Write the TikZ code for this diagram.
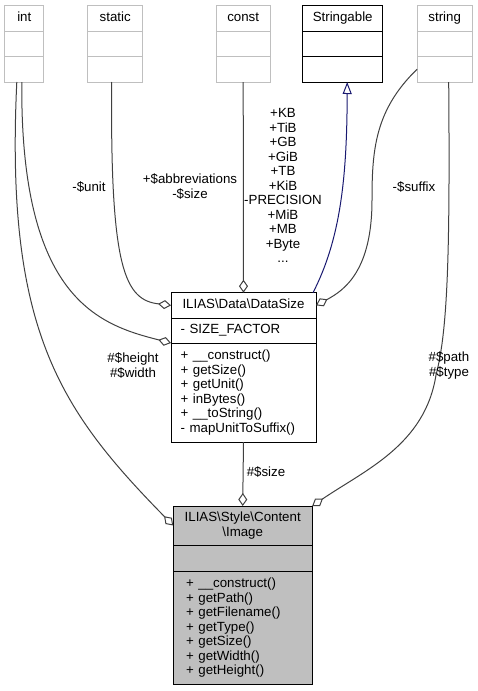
\documentclass[tikz,border=0pt]{standalone}
\usepackage{fontspec}
\setmainfont{Liberation Sans}
\usetikzlibrary{arrows.meta,positioning}
\definecolor{pale}{RGB}{191,191,191}
\definecolor{wire}{RGB}{64,64,64}
\definecolor{midnight}{RGB}{25,25,112}
\newcommand{\umlfont}{\fontsize{13.3}{14.5}\selectfont}
\tikzset{
  every node/.style={font=\umlfont,text=black,outer sep=0pt},
  head/.style={draw=#1,fill=white,line width=1pt,anchor=north,align=center,
    inner xsep=3pt,inner ysep=0pt,text height=9.5pt,text depth=3pt},
  head/.default=black,
  part/.style={draw=#1,fill=white,line width=1pt,inner sep=0pt},
  part/.default=black,
  title/.style={draw=black,fill=pale,line width=1pt,anchor=north,align=center,inner sep=0pt},
  ops/.style={draw=black,fill=#1,line width=1pt,align=left,inner ysep=0pt},
  ops/.default=white,
  agg/.style={draw=wire,line width=1pt,-{Diamond[open,length=13pt,width=9pt]}},
  isa/.style={draw=midnight,line width=1pt,-{Triangle[open,length=12pt,width=9pt]}},
  tag/.style={align=center,inner sep=0pt},
}
\begin{document}
\begin{tikzpicture}[x=1pt,y=-1pt]
  \useasboundingbox (0,0) rectangle (477,691);
  % member types along the top
  \foreach \nm/\x/\w/\lbl in {int/24.3/38.7/int, stat/115.2/55/static,
      const/243.2/54.3/const, str/444.7/55.3/string}{
    \node[head=pale,minimum width=\w,minimum height=26] (\nm) at (\x,5) {\lbl};
    \node[part=pale,minimum width=\w,minimum height=25.5,below=0pt of \nm] (\nm B) {};
    \node[part=pale,minimum width=\w,minimum height=25.5,below=0pt of \nm B] (\nm C) {};
  }
  \node[head,minimum width=80,minimum height=26] (strg) at (342.7,5) {Stringable};
  \node[part,minimum width=80,minimum height=25.5,below=0pt of strg] (strgB) {};
  \node[part,minimum width=80,minimum height=25.5,below=0pt of strgB] (strgC) {};

  % DataSize
  \node[head,minimum width=145,minimum height=25.3] (ds) at (243.5,292.7) {ILIAS\textbackslash Data\textbackslash DataSize};
  \node[ops,inner xsep=9.7pt,text width=125.6pt,minimum height=25,below=0pt of ds] (dsB) {- SIZE\_FACTOR};
  \node[ops,inner xsep=9.7pt,text width=125.6pt,minimum height=99,below=0pt of dsB] (dsC)
    {+ \_\_construct()\\+ getSize()\\+ getUnit()\\+ inBytes()\\+ \_\_toString()\\- mapUnitToSuffix()};

  % Image
  \node[title,minimum width=139,minimum height=39] (img) at (242.7,506)
    {ILIAS\textbackslash Style\textbackslash Content\\\textbackslash Image};
  \node[ops=pale,inner xsep=13pt,text width=113pt,minimum height=26.7,below=0pt of img] (imgB) {};
  \node[ops=pale,inner xsep=13pt,text width=113pt,minimum height=112.3,below=0pt of imgB] (imgC)
    {+ \_\_construct()\\+ getPath()\\+ getFilename()\\+ getType()\\+ getSize()\\+ getWidth()\\+ getHeight()};

  % connectors
  \draw[agg] ([xshift=-7.5]intC.south) .. controls (5,330) and (60,410) .. (img.west);
  \draw[agg] ([xshift=-2.5]intC.south) .. controls (20,300) and (100,325) .. (dsB.south west);
  \draw[agg] ([xshift=-3.5]statC.south) .. controls (110,270) and (125,300) .. (ds.west);
  \draw[agg] (constC.south) -- (ds.north);
  \draw[isa] ([xshift=-3]ds.north east) .. controls (340,240) and (347,180) .. ([xshift=4.5]strgC.south);
  \draw[agg] (strC.west) .. controls (375,110) and (372,150) .. (372,200)
    .. controls (372,270) and (345,290) .. (ds.east);
  \draw[agg] ([xshift=4]strC.south) .. controls (450,250) and (448,330) .. (436,375)
    .. controls (425,445) and (365,470) .. (img.north east);
  \draw[agg] (dsC.south) -- (img.north);

  % labels
  \node[tag] (unitlbl) at (89,187) {-\$unit};
  \node[tag] (abbrlbl) at (190,186.5) {+\$abbreviations\\-\$size};
  \node[tag] (constlbl) at (283,185.5)
    {+KB\\+TiB\\+GB\\+GiB\\+TB\\+KiB\\-PRECISION\\+MiB\\+MB\\+Byte\\...};
  \node[tag] (suffixlbl) at (414,187) {-\$suffix};
  \node[tag] (hwlbl) at (133,365.5) {\#\$height\\\#\$width};
  \node[tag] (ptlbl) at (449,365.5) {\#\$path\\\#\$type};
  \node[tag] (sizelbl) at (266,472) {\#\$size};
\end{tikzpicture}
\end{document}
